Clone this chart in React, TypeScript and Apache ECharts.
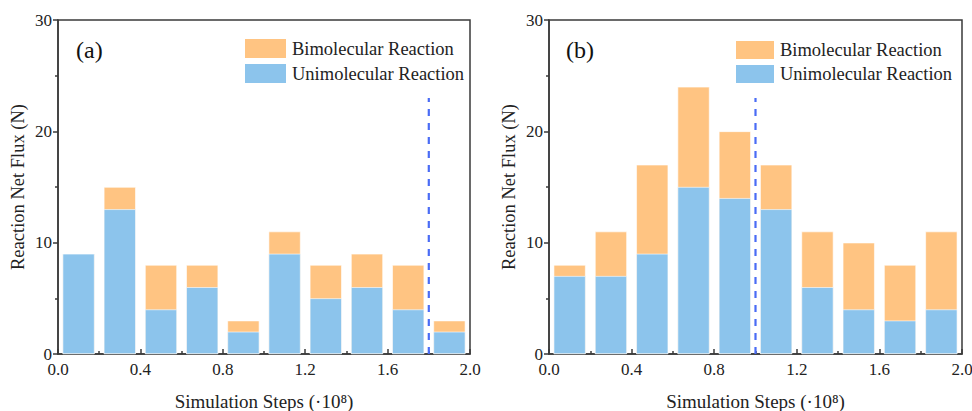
import React, { useEffect, useRef } from "react";
import * as echarts from "echarts";

const binCenters = [0.1, 0.3, 0.5, 0.7, 0.9, 1.1, 1.3, 1.5, 1.7, 1.9];
const uniA = [9, 13, 4, 6, 2, 9, 5, 6, 4, 2];
const biA = [0, 2, 4, 2, 1, 2, 3, 3, 4, 1];
const uniB = [7, 7, 9, 15, 14, 13, 6, 4, 3, 4];
const biB = [1, 4, 8, 9, 6, 4, 5, 6, 5, 7];
const markerA = 1.8;
const markerB = 1.0;
const markerTop = 23;
const panelLabels = ["(a)", "(b)"];
const seriesNames = ["Bimolecular Reaction", "Unimolecular Reaction"];

const ORANGE = "#FFC482";
const BLUE = "#8CC4EC";
const AXIS = "#3a3a3a";
const FONT = "'Liberation Serif', 'Times New Roman', serif";

export default function App() {
  const ref = useRef<HTMLDivElement>(null);
  useEffect(() => {
    if (!ref.current) return;
    const chart = echarts.init(ref.current, null, { renderer: "svg" });
    const pair = (vals: number[]) => vals.map((v, i) => [binCenters[i], v]);

    const xAxisBase = (gi: number) => ({
      type: "value",
      gridIndex: gi,
      min: 0,
      max: 2,
      interval: 0.4,
      name: "Simulation Steps (·10⁸)",
      nameLocation: "middle",
      nameGap: 38,
      nameTextStyle: { fontFamily: FONT, fontSize: 19, color: "#222" },
      axisLine: { show: true, lineStyle: { color: AXIS, width: 1.5 } },
      axisTick: { show: true, inside: true, length: 5, lineStyle: { color: AXIS, width: 1.5 } },
      minorTick: { show: true, splitNumber: 2, length: 3, lineStyle: { color: AXIS, width: 1.5 } },
      axisLabel: {
        fontFamily: FONT,
        fontSize: 17,
        color: "#222",
        margin: 7,
        formatter: (v: number) => v.toFixed(1),
      },
      splitLine: { show: false },
    });
    const yAxisBase = (gi: number) => ({
      type: "value",
      gridIndex: gi,
      min: 0,
      max: 30,
      interval: 10,
      name: "Reaction Net Flux (N)",
      nameLocation: "middle",
      nameGap: 31,
      nameTextStyle: { fontFamily: FONT, fontSize: 18.5, color: "#222" },
      axisLine: { show: true, lineStyle: { color: AXIS, width: 1.5 } },
      axisTick: { show: true, inside: false, length: 5, lineStyle: { color: AXIS, width: 1.5 } },
      minorTick: { show: true, splitNumber: 2, length: 3, lineStyle: { color: AXIS, width: 1.5 } },
      axisLabel: { fontFamily: FONT, fontSize: 17, color: "#222", margin: 6 },
      splitLine: { show: false },
    });

    const barSeries = (gi: number, uni: number[], bi: number[]) => [
      {
        name: seriesNames[0],
        type: "bar",
        xAxisIndex: gi,
        yAxisIndex: gi,
        barWidth: 32,
        barGap: "-100%",
        data: pair(uni.map((u, i) => u + bi[i])),
        itemStyle: { color: ORANGE, borderColor: "#fff", borderWidth: 0.6 },
        z: 2,
      },
      {
        name: seriesNames[1],
        type: "bar",
        xAxisIndex: gi,
        yAxisIndex: gi,
        barWidth: 32,
        barGap: "-100%",
        data: pair(uni),
        itemStyle: { color: BLUE, borderColor: "#fff", borderWidth: 0.6 },
        z: 3,
      },
      {
        name: "marker" + gi,
        type: "line",
        xAxisIndex: gi,
        yAxisIndex: gi,
        symbol: "none",
        data: [
          [gi === 0 ? markerA : markerB, 0],
          [gi === 0 ? markerA : markerB, markerTop],
        ],
        lineStyle: { color: "#4A6CF5", width: 2.2, type: [7, 7] },
        z: 5,
      },
    ];

    const legendBase = (left: number, top: number, w: number, h: number) => ({
      orient: "vertical",
      left,
      top,
      padding: 0,
      itemWidth: w,
      itemHeight: h,
      itemGap: 2,
      icon: "rect",
      selectedMode: false,
      data: seriesNames,
      textStyle: { fontFamily: FONT, fontSize: 18.5, color: "#222" },
    });

    chart.setOption({
      animation: false,
      backgroundColor: "#fff",
      grid: [
        { left: 58, right: 502, top: 20, bottom: 57, outerBoundsMode: "none", containLabel: false, show: true, borderColor: AXIS, borderWidth: 1.5, backgroundColor: "transparent" },
        { left: 549, right: 10, top: 20, bottom: 57, outerBoundsMode: "none", containLabel: false, show: true, borderColor: AXIS, borderWidth: 1.5, backgroundColor: "transparent" },
      ],
      xAxis: [xAxisBase(0), xAxisBase(1)],
      yAxis: [yAxisBase(0), yAxisBase(1)],
      legend: [legendBase(243, 37, 43, 21), legendBase(734, 39, 40, 20)],
      series: [...barSeries(0, uniA, biA), ...barSeries(1, uniB, biB)],
      graphic: [
        {
          type: "text",
          left: 76,
          top: 38,
          style: { text: panelLabels[0], font: `24px ${FONT}`, fill: "#111" },
        },
        {
          type: "text",
          left: 566,
          top: 38,
          style: { text: panelLabels[1], font: `24px ${FONT}`, fill: "#111" },
        },
      ],
    });
    return () => chart.dispose();
  }, []);
  return (
    <div
      ref={ref}
      style={{ position: "fixed", left: 0, top: 0, width: 972, height: 411 }}
    />
  );
}
